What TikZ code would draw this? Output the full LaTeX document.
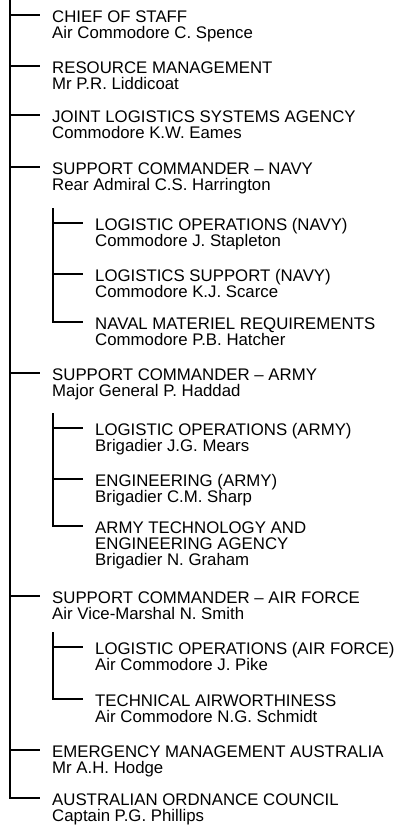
\documentclass[tikz,border=0pt]{standalone}
\usepackage{fontspec}
\setmainfont{Liberation Sans}
\usetikzlibrary{positioning}

\begin{document}
\begin{tikzpicture}[x=1pt,y=-1pt,
  unit/.style={align=left,inner sep=0pt,font=\fontsize{16.8}{16}\selectfont},
  branch/.style={line width=1.9pt,shorten >=12pt}]
  \useasboundingbox (0,0) rectangle (401,829);
  \coordinate (top) at (10,0);
  \coordinate (s1) at (10,15);
  \coordinate (s2) at (10,66);
  \coordinate (s3) at (10,115);
  \coordinate (s4) at (10,167);
  \coordinate (s5) at (10,373);
  \coordinate (s6) at (10,596);
  \coordinate (s7) at (10,750);
  \coordinate (s8) at (10,798);
  \coordinate (n0) at (53,208);
  \coordinate (n1) at (53,223);
  \coordinate (n2) at (53,274);
  \coordinate (n3) at (53,322);
  \coordinate (a0) at (53,413);
  \coordinate (a1) at (53,428);
  \coordinate (a2) at (53,479);
  \coordinate (a3) at (53,526);
  \coordinate (f0) at (53,632);
  \coordinate (f1) at (53,647);
  \coordinate (f2) at (53,699);

  \node[unit,below right=-4.5pt and 42pt of s1] (cos) {CHIEF OF STAFF\\Air Commodore C. Spence};
  \node[unit,below right=-4.5pt and 42pt of s2] (resman) {RESOURCE MANAGEMENT\\Mr P.R. Liddicoat};
  \node[unit,below right=-4.5pt and 42pt of s3] (jlsa) {JOINT LOGISTICS SYSTEMS AGENCY\\Commodore K.W. Eames};
  \node[unit,below right=-4.5pt and 42pt of s4] (scnavy) {SUPPORT COMMANDER – NAVY\\Rear Admiral C.S. Harrington};
  \node[unit,below right=-4.5pt and 42pt of n1] (lonavy) {LOGISTIC OPERATIONS (NAVY)\\Commodore J. Stapleton};
  \node[unit,below right=-4.5pt and 42pt of n2] (lsnavy) {LOGISTICS SUPPORT (NAVY)\\Commodore K.J. Scarce};
  \node[unit,below right=-4.5pt and 42pt of n3] (nmr) {NAVAL MATERIEL REQUIREMENTS\\Commodore P.B. Hatcher};
  \node[unit,below right=-4.5pt and 42pt of s5] (scarmy) {SUPPORT COMMANDER – ARMY\\Major General P. Haddad};
  \node[unit,below right=-4.5pt and 42pt of a1] (loarmy) {LOGISTIC OPERATIONS (ARMY)\\Brigadier J.G. Mears};
  \node[unit,below right=-4.5pt and 42pt of a2] (engarmy) {ENGINEERING (ARMY)\\Brigadier C.M. Sharp};
  \node[unit,below right=-4.5pt and 42pt of a3] (atea) {ARMY TECHNOLOGY AND\\ENGINEERING AGENCY\\Brigadier N. Graham};
  \node[unit,below right=-4.5pt and 42pt of s6] (scaf) {SUPPORT COMMANDER – AIR FORCE\\Air Vice-Marshal N. Smith};
  \node[unit,below right=-4.5pt and 42pt of f1] (loaf) {LOGISTIC OPERATIONS (AIR FORCE)\\Air Commodore J. Pike};
  \node[unit,below right=-4.5pt and 42pt of f2] (twa) {TECHNICAL AIRWORTHINESS\\Air Commodore N.G. Schmidt};
  \node[unit,below right=-4.5pt and 42pt of s7] (ema) {EMERGENCY MANAGEMENT AUSTRALIA\\Mr A.H. Hodge};
  \node[unit,below right=-4.5pt and 42pt of s8] (aoc) {AUSTRALIAN ORDNANCE COUNCIL\\Captain P.G. Phillips};

  \draw[branch] (top) -- (s8) -- (s8 -| aoc.west);
  \draw[branch] (s1) -- (s1 -| cos.west);
  \draw[branch] (s2) -- (s2 -| resman.west);
  \draw[branch] (s3) -- (s3 -| jlsa.west);
  \draw[branch] (s4) -- (s4 -| scnavy.west);
  \draw[branch] (s5) -- (s5 -| scarmy.west);
  \draw[branch] (s6) -- (s6 -| scaf.west);
  \draw[branch] (s7) -- (s7 -| ema.west);

  \draw[branch] (n0) -- (n3) -- (n3 -| nmr.west);
  \draw[branch] (n1) -- (n1 -| lonavy.west);
  \draw[branch] (n2) -- (n2 -| lsnavy.west);

  \draw[branch] (a0) -- (a3) -- (a3 -| atea.west);
  \draw[branch] (a1) -- (a1 -| loarmy.west);
  \draw[branch] (a2) -- (a2 -| engarmy.west);

  \draw[branch] (f0) -- (f2) -- (f2 -| twa.west);
  \draw[branch] (f1) -- (f1 -| loaf.west);
\end{tikzpicture}
\end{document}
